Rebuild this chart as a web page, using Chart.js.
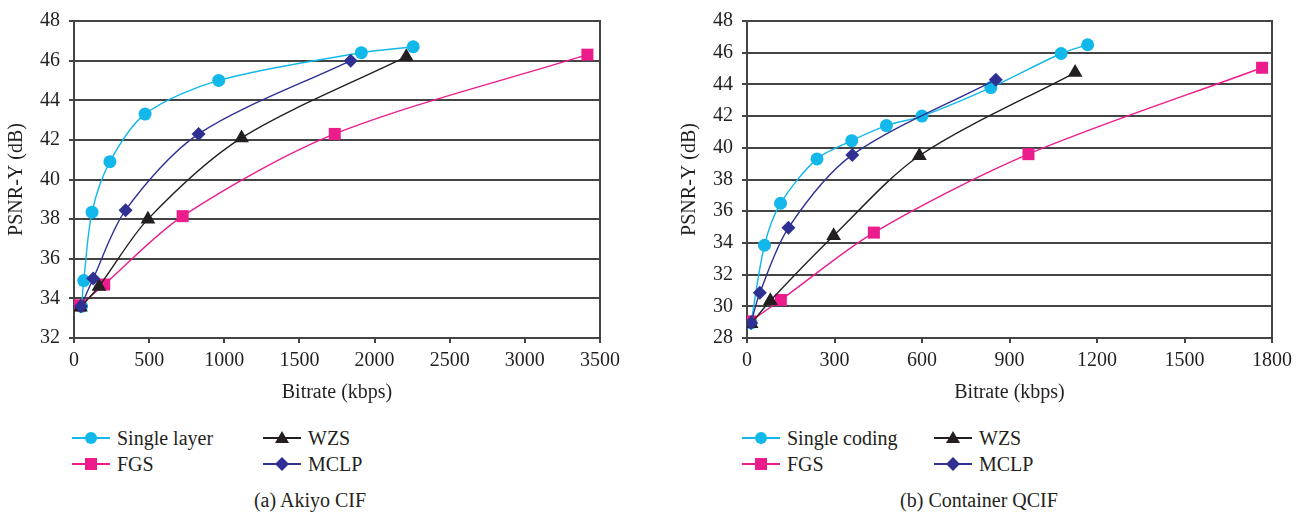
<!DOCTYPE html>
<html>
<head>
<meta charset="utf-8">
<title>PSNR-Y vs bitrate</title>
<script src="https://cdn.jsdelivr.net/npm/chart.js@4.4.1/dist/chart.umd.min.js"></script>
<style>
  body {
    margin: 0;
    width: 1316px;
    height: 515px;
    overflow: hidden;
    position: relative;
    background: #fff;
    font-family: "Liberation Serif", "DejaVu Serif", serif;
    color: #231f20;
  }
  .panel { position: absolute; top: 0; }
  .item {
    position: absolute;
    display: flex;
    align-items: center;
    height: 24px;
    font-size: 20px;
    white-space: nowrap;
  }
  .item svg { margin-right: 7px; }
  .caption {
    position: absolute;
    top: 488px;
    font-size: 20px;
    line-height: 24px;
    white-space: nowrap;
    transform: translateX(-50%);
  }
</style>
</head>
<body>
<canvas id="akiyo" class="panel" width="640" height="410" style="left:0"></canvas>
<canvas id="container" class="panel" width="640" height="410" style="left:673px"></canvas>
<div id="legend-a"></div>
<div id="legend-b"></div>
<div class="caption" style="left:310px">(a) Akiyo CIF</div>
<div class="caption" style="left:979px">(b) Container QCIF</div>

<script>
// [bitrate kbps, PSNR-Y dB]
const akiyoSingle = [[50, 33.6], [65, 34.9], [120, 38.35], [239, 40.9], [473, 43.3], [963, 45.0], [1912, 46.4], [2257, 46.7]];
const akiyoFGS    = [[40, 33.65], [201, 34.7], [723, 38.15], [1735, 42.3], [3416, 46.3]];
const akiyoWZS    = [[43, 33.55], [166, 34.6], [492, 38.0], [1115, 42.1], [2211, 46.2]];
const akiyoMCLP   = [[46, 33.6], [128, 35.0], [343, 38.45], [829, 42.3], [1841, 46.0]];

const containerSingle = [[14, 28.95], [60, 33.85], [115, 36.5], [240, 39.3], [359, 40.45], [478, 41.4], [600, 42.0], [836, 43.8], [1077, 45.95], [1168, 46.5]];
const containerFGS    = [[11, 29.05], [116, 30.4], [435, 34.65], [965, 39.6], [1766, 45.05]];
const containerWZS    = [[14, 28.9], [80, 30.35], [297, 34.45], [591, 39.5], [1125, 44.75]];
const containerMCLP   = [[14, 28.95], [44, 30.85], [142, 34.95], [361, 39.55], [853, 44.3]];

const akiyoNames = ['Single layer', 'FGS', 'WZS', 'MCLP'];
const containerNames = ['Single coding', 'FGS', 'WZS', 'MCLP'];

const akiyoXTicks = [0, 500, 1000, 1500, 2000, 2500, 3000, 3500];
const akiyoYTicks = [32, 34, 36, 38, 40, 42, 44, 46, 48];
const containerXTicks = [0, 300, 600, 900, 1200, 1500, 1800];
const containerYTicks = [28, 30, 32, 34, 36, 38, 40, 42, 44, 46, 48];

const seriesColors = ['#12b8ea', '#ec1c8c', '#231f20', '#2e3192'];
const seriesPoints = ['circle', 'rect', 'triangle', 'rectRot'];
const pointSizes = [6.5, 8.5, 8.5, 7];
const drawOrder = [3, 2, 1, 0];

const INK = '#231f20';
const GRID = '#444444';
const FONT = { family: '"Liberation Serif", "DejaVu Serif", serif', size: 20 };

const frame = {
  id: 'frame',
  beforeDatasetsDraw(chart) {
    const a = chart.chartArea;
    const ctx = chart.ctx;
    ctx.save();
    ctx.strokeStyle = GRID;
    ctx.lineWidth = 2;
    ctx.strokeRect(a.left, a.top, a.right - a.left, a.bottom - a.top);
    ctx.restore();
  }
};

function makeChart(id, names, series, xTicks, yTicks, areaTop, areaRight) {
  const canvas = document.getElementById(id);
  const areaBottom = 338;
  return new Chart(canvas, {
    type: 'line',
    data: {
      datasets: series.map((pts, i) => ({
        label: names[i],
        data: pts.map(p => ({ x: p[0], y: p[1] })),
        borderColor: seriesColors[i],
        backgroundColor: seriesColors[i],
        pointBackgroundColor: seriesColors[i],
        pointBorderColor: seriesColors[i],
        pointBorderWidth: 0,
        pointStyle: seriesPoints[i],
        pointRadius: pointSizes[i],
        borderWidth: 1.4,
        tension: 0.3,
        fill: false,
        order: drawOrder[i]
      }))
    },
    options: {
      responsive: false,
      animation: false,
      devicePixelRatio: 1,
      layout: { padding: { left: 0, top: areaTop, right: canvas.width - areaRight, bottom: 0 } },
      plugins: { legend: { display: false }, tooltip: { enabled: false } },
      scales: {
        x: {
          type: 'linear',
          min: xTicks[0],
          max: xTicks[xTicks.length - 1],
          afterBuildTicks: s => { s.ticks = xTicks.map(v => ({ value: v })); },
          ticks: { color: INK, font: FONT, padding: 6, maxRotation: 0, autoSkip: false, callback: v => String(v) },
          grid: { drawOnChartArea: false, drawTicks: true, tickLength: 5, color: GRID, lineWidth: 2 },
          border: { color: GRID, width: 2 },
          title: { display: true, text: 'Bitrate (kbps)', color: INK, font: FONT, padding: { top: 0, bottom: 5 } },
          afterFit: s => { s.height = canvas.height - areaBottom; }
        },
        y: {
          type: 'linear',
          min: yTicks[0],
          max: yTicks[yTicks.length - 1],
          afterBuildTicks: s => { s.ticks = yTicks.map(v => ({ value: v })); },
          ticks: { color: INK, font: FONT, padding: 9, callback: v => String(v) },
          grid: { color: GRID, lineWidth: 2, tickLength: 5 },
          border: { color: GRID, width: 2 },
          title: { display: true, text: 'PSNR-Y (dB)', color: INK, font: FONT, padding: { top: 5, bottom: 0 } },
          afterFit: s => { s.width = 74; }
        }
      }
    },
    plugins: [frame]
  });
}

makeChart('akiyo', akiyoNames, [akiyoSingle, akiyoFGS, akiyoWZS, akiyoMCLP],
  akiyoXTicks, akiyoYTicks, 16, 600);
makeChart('container', containerNames, [containerSingle, containerFGS, containerWZS, containerMCLP],
  containerXTicks, containerYTicks, 20, 599);

// legend swatches: short line with the series marker in the middle
function swatch(i) {
  const c = seriesColors[i];
  let mark;
  if (seriesPoints[i] === 'circle') mark = `<circle cx="19" cy="10" r="6" fill="${c}"/>`;
  else if (seriesPoints[i] === 'rect') mark = `<rect x="13" y="4" width="12" height="12" fill="${c}"/>`;
  else if (seriesPoints[i] === 'triangle') mark = `<polygon points="19,3 26,15 12,15" fill="${c}"/>`;
  else mark = `<polygon points="19,3 26,10 19,17 12,10" fill="${c}"/>`;
  return `<svg width="38" height="20"><line x1="0" y1="10" x2="38" y2="10" stroke="${c}" stroke-width="1.8"/>${mark}</svg>`;
}

function buildLegend(id, names, cols) {
  const el = document.getElementById(id);
  const rows = [426, 452];
  // two columns: (first, third) on the left, (second, fourth) on the right
  const slots = [[0, 0], [1, 0], [0, 1], [1, 1]];
  el.innerHTML = names.map((n, i) => {
    const [row, col] = slots[i];
    return `<div class="item" style="left:${cols[col]}px;top:${rows[row]}px">${swatch(i)}<span>${n}</span></div>`;
  }).join('');
}

buildLegend('legend-a', akiyoNames, [72, 263]);
buildLegend('legend-b', containerNames, [742, 934]);
</script>
</body>
</html>
